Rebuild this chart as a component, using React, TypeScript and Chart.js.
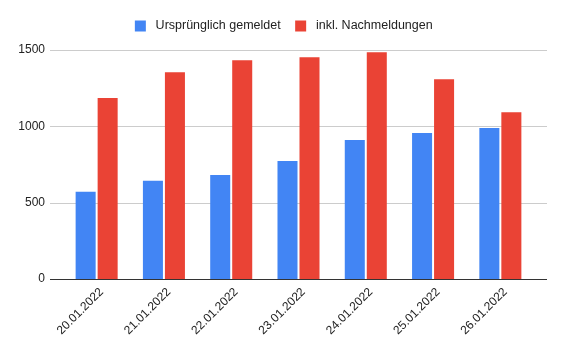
import React, { useEffect, useRef } from "react";
import { Chart, registerables } from "chart.js";

Chart.register(...registerables);

const categories = ["20.01.2022", "21.01.2022", "22.01.2022", "23.01.2022", "24.01.2022", "25.01.2022", "26.01.2022"];
const seriesOriginal = [571, 643, 682, 773, 910, 956, 989];
const seriesWithLate = [1185, 1355, 1433, 1453, 1486, 1309, 1093];
const yTicks = [0, 500, 1000, 1500];

const FONT = "'Liberation Sans', Arial, sans-serif";

const gridPlugin = {
  id: "extendedGrid",
  beforeDatasetsDraw(chart: any) {
    const { ctx, chartArea } = chart;
    const y = chart.scales.y;
    ctx.save();
    ctx.lineWidth = 1;
    for (const v of yTicks) {
      const py = Math.round(y.getPixelForValue(v)) + 0.5;
      ctx.strokeStyle = v === 0 ? "#333333" : "#cccccc";
      ctx.beginPath();
      ctx.moveTo(chartArea.left - 13, py);
      ctx.lineTo(chartArea.right + 13, py);
      ctx.stroke();
    }
    ctx.restore();
  },
};

export default function App() {
  const ref = useRef<HTMLCanvasElement>(null);
  useEffect(() => {
    if (!ref.current) return;
    const chart = new Chart(ref.current, {
      type: "bar",
      data: {
        labels: categories,
        datasets: [
          { label: "Ursprünglich gemeldet", data: seriesOriginal, backgroundColor: "#4285F4", barPercentage: 0.91, categoryPercentage: 0.654 },
          { label: "inkl. Nachmeldungen", data: seriesWithLate, backgroundColor: "#EA4335", barPercentage: 0.91, categoryPercentage: 0.654 },
        ],
      },
      options: {
        animation: false,
        responsive: true,
        maintainAspectRatio: false,
        layout: { padding: { left: 0, right: 0, top: 6, bottom: 0 } },
        plugins: {
          tooltip: { enabled: false },
          legend: {
            position: "top",
            align: "center",
            labels: {
              font: { family: FONT, size: 12.5 },
              color: "#222222",
              boxWidth: 18,
              boxHeight: 18,
              padding: 11,
              generateLabels: (c: any) =>
                Chart.defaults.plugins.legend.labels.generateLabels(c).map((it: any) => ({
                  ...it,
                  strokeStyle: "#ffffff",
                  lineWidth: 7,
                })),
            },
          } as any,
        },
        scales: {
          x: {
            grid: { display: false, drawTicks: false },
            border: { display: false },
            ticks: {
              font: { family: FONT, size: 12 },
              color: "#222222",
              minRotation: 45,
              maxRotation: 45,
              padding: 6,
              labelOffset: 5,
              autoSkip: false,
            },
            afterFit: (s: any) => {
              s.height = 73;
            },
          },
          y: {
            min: 0,
            max: 1500,
            grid: { display: false, drawTicks: false },
            border: { display: false },
            ticks: {
              stepSize: 500,
              font: { family: FONT, size: 12 },
              color: "#222222",
              padding: 18,
              callback: (v: any) => String(v),
            },
            afterFit: (s: any) => {
              s.width = 63;
            },
          },
          yRightSpacer: {
            type: "linear",
            position: "right",
            min: 0,
            max: 1500,
            grid: { display: false, drawTicks: false },
            border: { display: false },
            ticks: { display: false },
            afterFit: (s: any) => {
              s.width = 30;
            },
          },
        } as any,
      },
      plugins: [gridPlugin],
    });
    const lg: any = (chart as any).legend;
    const origFit = lg.fit.bind(lg);
    lg.fit = function () {
      origFit();
      this.height = 44;
    };
    chart.update();
    return () => chart.destroy();
  }, []);
  return (
    <div style={{ position: "fixed", left: 0, top: 0, width: 564, height: 352, background: "#fff" }}>
      <canvas ref={ref} />
    </div>
  );
}
